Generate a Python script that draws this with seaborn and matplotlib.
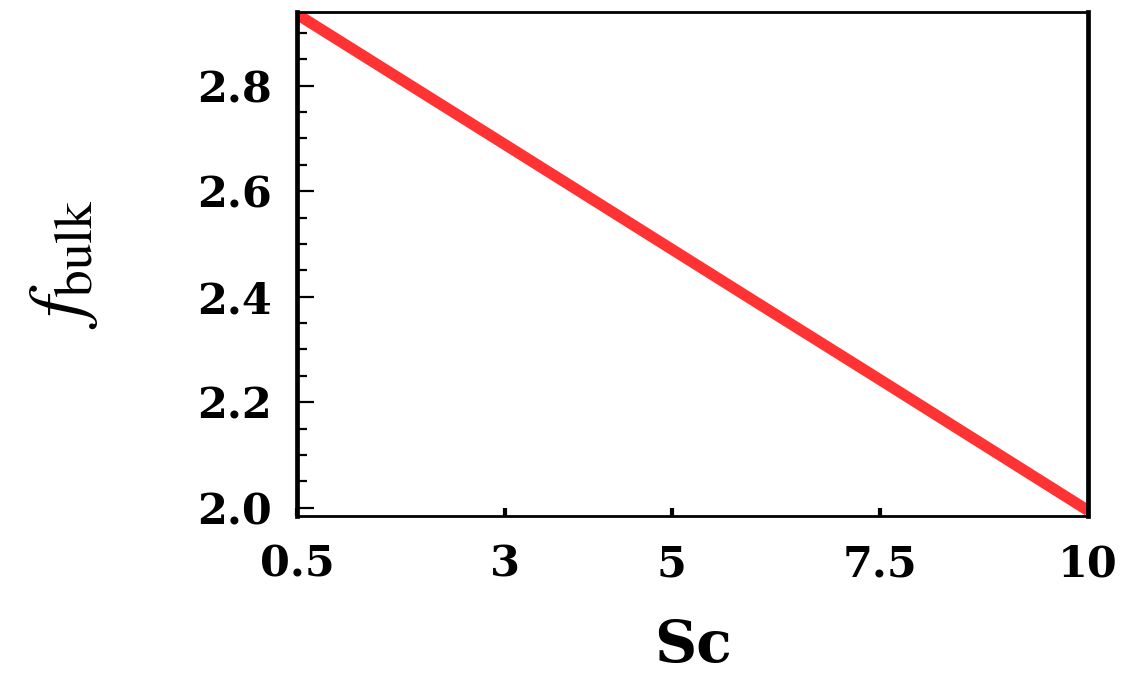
import numpy as np
import pandas as pd
import matplotlib
matplotlib.use("Agg")
import matplotlib.pyplot as plt
import seaborn as sns
from matplotlib.ticker import MultipleLocator

# values
sc_values = [0.5, 3.0, 5.0, 6.0, 7.5, 10.0]
f_bulk = [2.935, 2.688, 2.490, 2.391, 2.243, 1.995]
x_ticks = [0.5, 3, 5, 7.5, 10]
x_tick_labels = ["0.5", "3", "5", "7.5", "10"]
y_ticks = [2.0, 2.2, 2.4, 2.6, 2.8]
y_tick_labels = ["2.0", "2.2", "2.4", "2.6", "2.8"]

sns.set_style("ticks")
plt.rcParams["font.family"] = ["DejaVu Serif", "Liberation Serif"]
plt.rcParams["text.color"] = "black"
plt.rcParams["axes.labelcolor"] = "black"
plt.rcParams["xtick.color"] = "black"
plt.rcParams["ytick.color"] = "black"
plt.rcParams["mathtext.fontset"] = "stix"

df = pd.DataFrame({"Sc": sc_values, "f": f_bulk})

fig = plt.figure(figsize=(11.39, 6.76), dpi=100)
ax = fig.add_axes([0.2608, 0.237, 0.6944, 0.745])

sns.lineplot(data=df, x="Sc", y="f", ax=ax, color="#ff3333", linewidth=8,
             solid_capstyle="butt")

ax.set_xlim(0.5, 10)
ax.set_ylim(1.985, 2.939)
ax.set_xticks(x_ticks)
ax.set_xticklabels(x_tick_labels)
ax.set_yticks(y_ticks)
ax.set_yticklabels(y_tick_labels)
ax.yaxis.set_minor_locator(MultipleLocator(0.05))

ax.tick_params(axis="x", which="major", direction="in", length=6, width=3,
               labelsize=31, pad=20)
ax.tick_params(axis="y", which="major", direction="in", length=12, width=1.6,
               labelsize=31, pad=18)
ax.tick_params(axis="y", which="minor", direction="in", length=7, width=1.6)
for lab in ax.get_xticklabels() + ax.get_yticklabels():
    lab.set_fontweight("bold")

for side in ["left", "right"]:
    ax.spines[side].set_linewidth(3.4)
for side in ["top", "bottom"]:
    ax.spines[side].set_linewidth(2.0)
for spine in ax.spines.values():
    spine.set_color("black")

ax.set_xlabel("Sc", fontsize=42, fontweight="bold", labelpad=23)
ax.set_ylabel(r"$f_{\mathrm{bulk}}$", fontsize=55, fontweight="normal", labelpad=70)

fig.savefig("out.png", dpi=100)
